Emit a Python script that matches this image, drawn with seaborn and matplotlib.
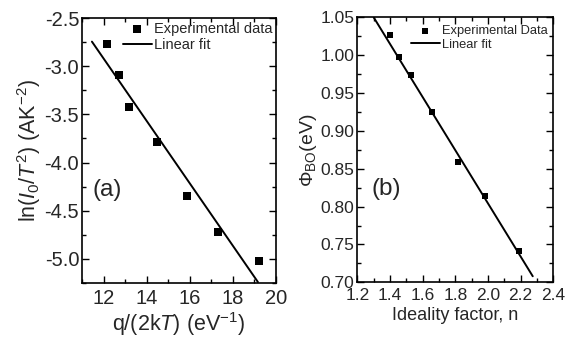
import matplotlib
matplotlib.use("Agg")
import matplotlib.pyplot as plt
import seaborn as sns
import pandas as pd
from matplotlib.ticker import MultipleLocator, FormatStrFormatter

# ---- data ----
a_x = [12.16, 12.73, 13.20, 14.47, 15.86, 17.30, 19.22]
a_y = [-2.77, -3.09, -3.42, -3.79, -4.35, -4.72, -5.02]
a_fit_x = [11.46, 19.16]
a_fit_y = [-2.745, -5.24]

b_x = [1.400, 1.457, 1.527, 1.656, 1.815, 1.984, 2.192]
b_y = [1.026, 0.997, 0.974, 0.925, 0.859, 0.814, 0.742]
b_fit_x = [1.30, 2.274]
b_fit_y = [1.05, 0.708]

sns.set_theme(style="ticks")
plt.rcParams['font.family'] = ['Liberation Sans', 'DejaVu Sans']
plt.rcParams['mathtext.fontset'] = 'custom'
plt.rcParams['mathtext.rm'] = 'Liberation Sans'
plt.rcParams['mathtext.it'] = 'Liberation Sans:italic'
plt.rcParams['mathtext.bf'] = 'Liberation Sans:bold'
plt.rcParams['axes.unicode_minus'] = False

fig = plt.figure(figsize=(5.66, 3.40), dpi=100)
fig.patch.set_facecolor('white')
ax1 = fig.add_axes([0.1449, 0.1676, 0.3428, 0.7794])
ax2 = fig.add_axes([0.6313, 0.1697, 0.3463, 0.7794])

da = pd.DataFrame({'x': a_x, 'y': a_y})
dfa = pd.DataFrame({'x': a_fit_x, 'y': a_fit_y})
db = pd.DataFrame({'x': b_x, 'y': b_y})
dfb = pd.DataFrame({'x': b_fit_x, 'y': b_fit_y})

sns.scatterplot(data=da, x='x', y='y', ax=ax1, marker='s', s=32, color='black',
                edgecolor='black', linewidth=0, label='Experimental data', zorder=3)
sns.lineplot(data=dfa, x='x', y='y', ax=ax1, color='black', linewidth=1.4,
             label='Linear fit', estimator=None, sort=False)

sns.scatterplot(data=db, x='x', y='y', ax=ax2, marker='s', s=16, color='black',
                edgecolor='black', linewidth=0, label='Experimental Data', zorder=3)
sns.lineplot(data=dfb, x='x', y='y', ax=ax2, color='black', linewidth=1.4,
             label='Linear fit', estimator=None, sort=False)

# axes (a)
ax1.set_xlim(11, 20)
ax1.set_ylim(-5.25, -2.5)
ax1.xaxis.set_major_locator(MultipleLocator(2))
ax1.xaxis.set_minor_locator(MultipleLocator(1))
ax1.yaxis.set_major_locator(MultipleLocator(0.5))
ax1.yaxis.set_minor_locator(MultipleLocator(0.25))
ax1.yaxis.set_major_formatter(FormatStrFormatter('%.1f'))
ax1.set_xlabel(r"q/(2k$\mathit{T}$) (eV$^{-1}$)", fontsize=15.5, labelpad=2)
ax1.set_ylabel(r"ln($\mathit{I}_0$/$\mathit{T}^2$) (AK$^{-2}$)", fontsize=15.5, labelpad=1)
ax1.text(0.13, 0.351, "(a)", transform=ax1.transAxes, fontsize=17.5,
         ha='center', va='center')

# axes (b)
ax2.set_xlim(1.2, 2.4)
ax2.set_ylim(0.70, 1.05)
ax2.xaxis.set_major_locator(MultipleLocator(0.2))
ax2.xaxis.set_minor_locator(MultipleLocator(0.1))
ax2.yaxis.set_major_locator(MultipleLocator(0.05))
ax2.yaxis.set_minor_locator(MultipleLocator(0.025))
ax2.xaxis.set_major_formatter(FormatStrFormatter('%.1f'))
ax2.yaxis.set_major_formatter(FormatStrFormatter('%.2f'))
ax2.set_xlabel("Ideality factor, n", fontsize=13, labelpad=3)
ax2.set_ylabel(r"$\Phi_{\mathrm{BO}}$(eV)", fontsize=14, labelpad=1)
ax2.text(0.148, 0.351, "(b)", transform=ax2.transAxes, fontsize=17.5,
         ha='center', va='center')

for ax, fs in ((ax1, 14.5), (ax2, 12.5)):
    for sp in ax.spines.values():
        sp.set_visible(True)
        sp.set_linewidth(1.2)
        sp.set_color('black')
    ax.tick_params(which='both', direction='in', top=True, right=True,
                   color='black', width=1.0)
    ax.tick_params(which='major', length=5, labelsize=fs)
    ax.tick_params(which='minor', length=3)
    ax.set_facecolor('white')
ax1.tick_params(axis='x', which='major', pad=4)
ax1.tick_params(axis='y', which='major', pad=2)
ax2.tick_params(axis='x', which='major', pad=4)
ax2.tick_params(axis='y', which='major', pad=2)

leg1 = ax1.legend(loc='upper left', bbox_to_anchor=(0.21, 0.985), frameon=False,
                  fontsize=10.5, handlelength=2.0, handletextpad=0.15,
                  labelspacing=0.15, borderpad=0, borderaxespad=0)
leg2 = ax2.legend(loc='upper left', bbox_to_anchor=(0.275, 0.97), frameon=False,
                  fontsize=9.3, handlelength=2.2, handletextpad=0.15,
                  labelspacing=0.12, borderpad=0, borderaxespad=0)

fig.savefig("out.png", dpi=100, facecolor='white')
